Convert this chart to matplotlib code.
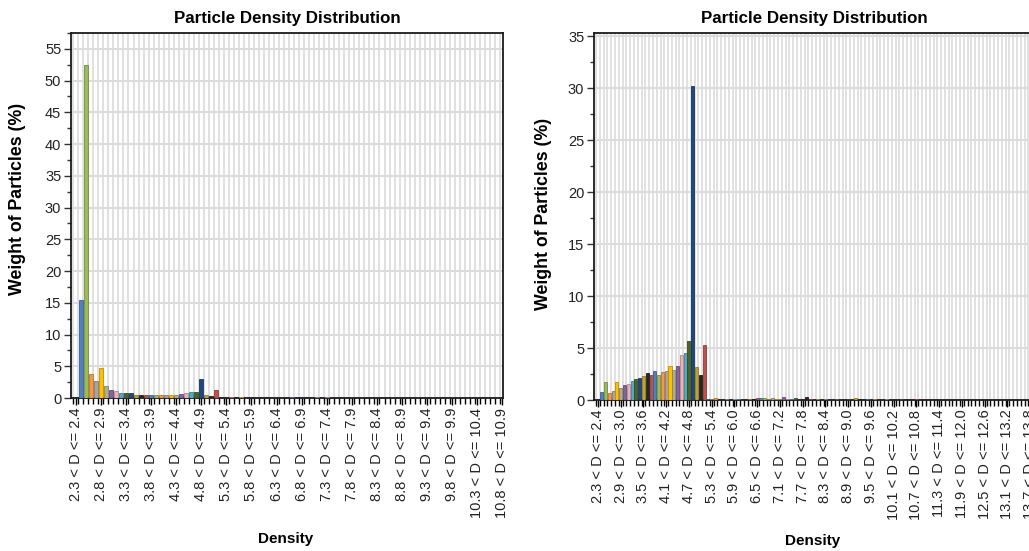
import numpy as np
import matplotlib
matplotlib.use("Agg")
import matplotlib.pyplot as plt
from matplotlib.colors import to_rgb

plt.rcParams['font.family'] = ['Liberation Sans', 'DejaVu Sans']

# Density bins: 0.1 wide, lower edge starting at 2.3
left_bin_lows = np.round(np.arange(86) * 0.1 + 2.3, 1)
right_bin_lows = np.round(np.arange(116) * 0.1 + 2.3, 1)

# Weight of particles (%) per density bin
left_weights = [
    0.0, 15.5, 52.4, 3.85, 2.65, 4.65, 1.85, 1.2, 1.05, 0.8,
    0.8, 0.8, 0.55, 0.55, 0.55, 0.55, 0.55, 0.55, 0.55, 0.55,
    0.4, 0.6, 0.75, 1.0, 1.0, 3.05, 0.55, 0.25, 1.2, 0.06,
    0.05, 0.1, 0.04, 0.1, 0.03, 0.04, 0.03, 0.03, 0.06, 0.05,
    0.04, 0.06, 0.05, 0.08, 0.05, 0.06, 0.03, 0.05, 0.08, 0.06,
    0.08, 0.05, 0.03, 0.02, 0.02, 0.02, 0.0, 0.0, 0.0, 0.0,
    0.0, 0.0, 0.0, 0.0, 0.0, 0.0, 0.0, 0.03, 0.0, 0.0,
    0.0, 0.0, 0.0, 0.0, 0.0, 0.0, 0.0, 0.0, 0.0, 0.0,
    0.0, 0.0, 0.0, 0.0, 0.0, 0.0,
]
right_weights = [
    0.0, 0.8, 1.7, 0.65, 0.9, 1.7, 1.15, 1.45, 1.55, 1.8,
    2.05, 2.15, 2.3, 2.55, 2.45, 2.8, 2.45, 2.65, 2.75, 3.3,
    2.9, 3.3, 4.3, 4.55, 5.65, 30.2, 3.15, 2.45, 5.3, 0.05,
    0.05, 0.2, 0.04, 0.03, 0.05, 0.04, 0.1, 0.05, 0.04, 0.03,
    0.05, 0.06, 0.15, 0.15, 0.15, 0.05, 0.15, 0.06, 0.1, 0.3,
    0.08, 0.1, 0.15, 0.05, 0.04, 0.25, 0.05, 0.04, 0.06, 0.03,
    0.05, 0.04, 0.03, 0.05, 0.03, 0.04, 0.05, 0.03, 0.2, 0.05,
    0.04, 0.06, 0.03, 0.05, 0.04, 0.03, 0.05, 0.04, 0.03, 0.02,
    0.05, 0.03, 0.04, 0.03, 0.05, 0.03, 0.02, 0.04, 0.03, 0.02,
    0.03, 0.02, 0.04, 0.03, 0.02, 0.03, 0.02, 0.03, 0.02, 0.02,
    0.03, 0.02, 0.02, 0.03, 0.02, 0.02, 0.02, 0.03, 0.02, 0.02,
    0.02, 0.02, 0.02, 0.02, 0.02, 0.02,
]

# Point colour cycle
palette = [
    '#4F81BD', '#9BBB59', '#F79646', '#A5A5A5', '#FFC000', '#B5AE84',
    '#8064A2', '#F2AEB5', '#4BACC6', '#4F6228', '#1F497D', '#BFA22E',
    '#262626', '#C0504D',
]


def darker(c, f=0.75):
    r, g, b = to_rgb(c)
    return (r * f, g * f, b * f)


def draw_panel(ax, lows, weights, label_step, xlim, ylim, yticks):
    n = len(weights)
    x = np.arange(n)
    colors = [palette[(i - 1) % len(palette)] for i in range(n)]
    ax.bar(x, weights, width=0.82, color=colors,
           edgecolor=[darker(c) for c in colors], linewidth=0.6, zorder=3)

    tick_idx = x[::label_step]
    ax.set_xticks(tick_idx)
    ax.set_xticklabels([f"{lows[i]:.1f} < D <= {lows[i] + 0.1:.1f}"
                        for i in tick_idx], rotation=90, fontsize=10.5)
    ax.set_xticks(np.arange(-0.5, n + 0.5, 1.0), minor=True)
    ax.set_xlim(*xlim)

    ax.set_ylim(*ylim)
    ax.set_yticks(yticks)
    ax.set_yticklabels([str(v) for v in yticks], fontsize=10.5)
    ax.set_yticks(np.arange(0, ylim[1] + 0.01, 2.5), minor=True)

    ax.grid(True, which='minor', axis='x', color='#DEDEDE', linewidth=1.3, zorder=0)
    ax.grid(True, which='major', axis='y', color='#DCDCDC', linewidth=1.5, zorder=0)
    ax.set_axisbelow(True)

    ax.tick_params(axis='x', which='major', length=5, width=1, color='black',
                   pad=2, labelcolor='#222222')
    ax.tick_params(axis='x', which='minor', length=4, width=1, color='black')
    ax.tick_params(axis='y', which='major', length=5, width=1, color='#333333',
                   pad=2, labelcolor='#222222')
    ax.tick_params(axis='y', which='minor', length=3, width=1, color='#333333')
    for sp in ax.spines.values():
        sp.set_color('#1A1A1A')
        sp.set_linewidth(1.3)

    ax.set_title('Particle Density Distribution', fontsize=12.2,
                 fontweight='bold', pad=7)


W, H = 1029, 551
fig = plt.figure(figsize=(W / 100, H / 100), dpi=100)
fig.patch.set_facecolor('white')

# Left panel
l0, r0, t0, b0 = 71, 503, 33, 398
ax1 = fig.add_axes([l0 / W, (H - b0) / H, (r0 - l0) / W, (b0 - t0) / H])
draw_panel(ax1, left_bin_lows, left_weights, 5, (-0.95, 85.1), (0, 57.5),
           list(range(0, 56, 5)))

# Right panel (runs past the figure's right edge)
l1, r1, t1, b1 = 594, 1034, 33, 400
ax2 = fig.add_axes([l1 / W, (H - b1) / H, (r1 - l1) / W, (b1 - t1) / H])
draw_panel(ax2, right_bin_lows, right_weights, 6, (-1.05, 115.0), (0, 35.3),
           list(range(0, 36, 5)))

# Axis titles
fig.text(18 / W, 1 - 199 / H, 'Weight of Particles (%)', rotation=90,
         ha='center', va='center', fontsize=12.8, fontweight='bold')
fig.text(543 / W, 1 - 214 / H, 'Weight of Particles (%)', rotation=90,
         ha='center', va='center', fontsize=12.8, fontweight='bold')
fig.text(286 / W, 1 - 539 / H, 'Density', ha='center', va='center',
         fontsize=11, fontweight='bold')
fig.text(813 / W, 1 - 541 / H, 'Density', ha='center', va='center',
         fontsize=11, fontweight='bold')

fig.savefig('out.png', dpi=100, facecolor='white')
